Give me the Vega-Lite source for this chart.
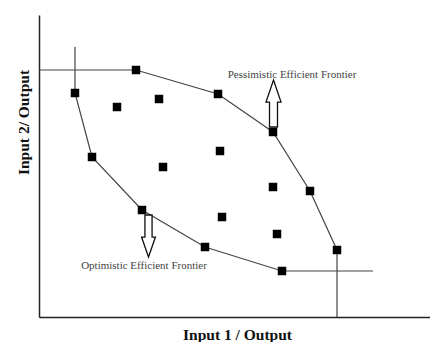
{
  "$schema": "https://vega.github.io/schema/vega-lite/v6.json",
  "width": 391,
  "height": 302,
  "autosize": {"type": "none"},
  "padding": {"left": 39, "top": 15, "right": 0, "bottom": 25},
  "background": "white",
  "config": {
    "view": {"stroke": null},
    "axis": {
      "grid": false,
      "ticks": false,
      "labels": false,
      "domainColor": "#222",
      "domainWidth": 1.5,
      "titleFont": "Liberation Serif",
      "titleFontSize": 15.5,
      "titleFontWeight": "bold",
      "titleColor": "#111"
    }
  },
  "encoding": {
    "x": {
      "field": "x", "type": "quantitative",
      "scale": {"domain": [0, 391], "nice": false, "zero": false},
      "axis": {"title": "Input 1 / Output", "titleBaseline": "middle", "titleY": 17, "titleAlign": "center", "titleX": 198}
    },
    "y": {
      "field": "y", "type": "quantitative",
      "scale": {"domain": [0, 302], "nice": false, "zero": false},
      "axis": {"title": "Input 2/ Output", "titleAngle": -90, "titleBaseline": "middle", "titleAlign": "center", "titleX": -16, "titleY": 107}
    }
  },
  "layer": [
    {
      "data": {"values": [
        {"series": "optimistic", "order": 1, "x": 36, "y": 270},
        {"series": "optimistic", "order": 2, "x": 36, "y": 224},
        {"series": "optimistic", "order": 3, "x": 53, "y": 160},
        {"series": "optimistic", "order": 4, "x": 103, "y": 107},
        {"series": "optimistic", "order": 5, "x": 166, "y": 70},
        {"series": "optimistic", "order": 6, "x": 243, "y": 46},
        {"series": "optimistic", "order": 7, "x": 334, "y": 46},
        {"series": "pessimistic", "order": 1, "x": 0, "y": 247},
        {"series": "pessimistic", "order": 2, "x": 97, "y": 247},
        {"series": "pessimistic", "order": 3, "x": 179, "y": 223},
        {"series": "pessimistic", "order": 4, "x": 234, "y": 185},
        {"series": "pessimistic", "order": 5, "x": 271, "y": 126},
        {"series": "pessimistic", "order": 6, "x": 298, "y": 67},
        {"series": "pessimistic", "order": 7, "x": 298, "y": 0}
      ]},
      "mark": {"type": "line", "color": "#444", "strokeWidth": 1.2},
      "encoding": {
        "detail": {"field": "series"},
        "order": {"field": "order", "type": "quantitative"}
      }
    },
    {
      "data": {"values": [
        {"x": 36, "y": 224}, {"x": 53, "y": 160}, {"x": 103, "y": 107}, {"x": 166, "y": 70}, {"x": 243, "y": 46},
        {"x": 97, "y": 247}, {"x": 179, "y": 223}, {"x": 234, "y": 185}, {"x": 271, "y": 126}, {"x": 298, "y": 67},
        {"x": 78, "y": 210}, {"x": 120, "y": 218}, {"x": 124, "y": 150}, {"x": 181, "y": 166},
        {"x": 234, "y": 130}, {"x": 183, "y": 100}, {"x": 238, "y": 83}
      ]},
      "mark": {"type": "point", "shape": "square", "filled": true, "color": "#000", "size": 72, "opacity": 1}
    },
    {
      "data": {"values": [{"x": 234.5, "y": 213.5}]},
      "mark": {
        "type": "point",
        "shape": "M -0.17 1 L 0.17 1 L 0.17 -0.06 L 0.32 -0.06 L 0 -1 L -0.32 -0.06 L -0.17 -0.06 Z",
        "size": 2209, "filled": true, "fill": "white", "stroke": "#111", "strokeWidth": 1.3, "opacity": 1, "fillOpacity": 1
      }
    },
    {
      "data": {"values": [{"x": 109.5, "y": 81}]},
      "mark": {
        "type": "point",
        "shape": "M -0.17 -1 L 0.17 -1 L 0.17 0.05 L 0.33 0.05 L 0 1 L -0.33 0.05 L -0.17 0.05 Z",
        "size": 1764, "filled": true, "fill": "white", "stroke": "#111", "strokeWidth": 1.3, "opacity": 1, "fillOpacity": 1
      }
    },
    {
      "data": {"values": [
        {"label": "Pessimistic Efficient Frontier", "x": 253, "y": 242},
        {"label": "Optimistic Efficient Frontier", "x": 105, "y": 51}
      ]},
      "mark": {"type": "text", "font": "Liberation Serif", "fontSize": 11, "color": "#444", "align": "center", "baseline": "middle"},
      "encoding": {"text": {"field": "label"}}
    }
  ]
}
